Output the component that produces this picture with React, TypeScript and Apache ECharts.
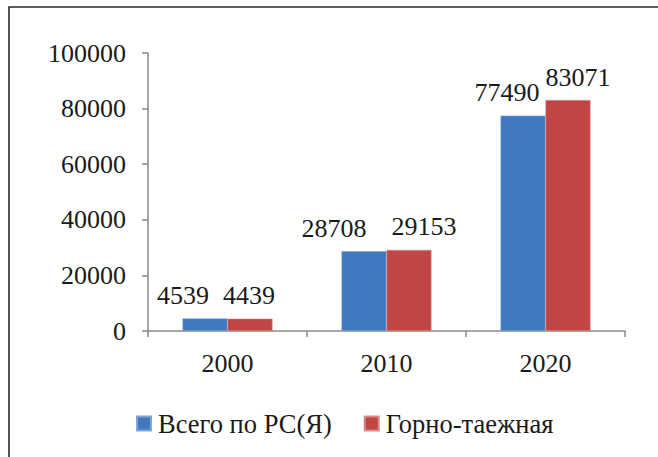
import React, { useEffect, useRef } from "react";
import * as echarts from "echarts";

const categories = ["2000", "2010", "2020"];
const seriesNames = ["Всего по РС(Я)", "Горно-таежная"];
const totalValues = [4539, 28708, 77490];
const mountainValues = [4439, 29153, 83071];
const yTicks = { min: 0, max: 100000, interval: 20000 };

// horizontal shifts of the value labels (layout only)
const totalLabelShift = [-22, -30, -16];
const mountainLabelShift = [-1, 15, 10];

const FONT = "Liberation Serif";

export default function App() {
  const ref = useRef<HTMLDivElement>(null);
  useEffect(() => {
    if (!ref.current) return;
    const chart = echarts.init(ref.current, null, { renderer: "svg" });
    const labelBase = {
      show: true,
      position: "top",
      distance: 10,
      color: "#1a1a1a",
      fontFamily: FONT,
      fontSize: 26,
    };
    chart.setOption({
      animation: false,
      backgroundColor: "#ffffff",
      textStyle: { fontFamily: FONT },
      graphic: [
        {
          type: "rect",
          shape: { x: 9, y: 7, width: 700, height: 500 },
          style: { fill: "none", stroke: "#2a2a2a", lineWidth: 1.6 },
          silent: true,
        },
      ],
      grid: { left: 148, right: 33, top: 53, bottom: 126, containLabel: false },
      legend: {
        left: 131,
        top: 405,
        itemWidth: 14,
        itemHeight: 14,
        itemGap: 32,
        icon: "rect",
        textStyle: { fontFamily: FONT, fontSize: 26.5, color: "#1a1a1a", padding: [0, 0, 0, 2] },
        data: seriesNames,
      },
      xAxis: {
        type: "category",
        data: categories,
        axisLine: { lineStyle: { color: "#8a8a8a", width: 1.5 } },
        axisTick: { show: true, length: 6, lineStyle: { color: "#8a8a8a", width: 1.5 } },
        axisLabel: { color: "#1a1a1a", fontFamily: FONT, fontSize: 26, margin: 19 },
      },
      yAxis: {
        type: "value",
        min: yTicks.min,
        max: yTicks.max,
        interval: yTicks.interval,
        splitLine: { show: false },
        axisLine: { show: true, lineStyle: { color: "#8a8a8a", width: 1.5 } },
        axisTick: { show: true, length: 6, lineStyle: { color: "#8a8a8a", width: 1.5 } },
        axisLabel: {
          color: "#1a1a1a",
          fontFamily: FONT,
          fontSize: 26,
          margin: 22,
          formatter: (v: number) => String(v),
        },
      },
      series: [
        {
          name: seriesNames[0],
          type: "bar",
          barWidth: 45,
          barGap: "0%",
          itemStyle: { color: "#4079BD", borderColor: "#7fa6d6", borderWidth: 0.6 },
          label: labelBase,
          data: totalValues.map((v, i) => ({ value: v, label: { offset: [totalLabelShift[i], 0] } })),
        },
        {
          name: seriesNames[1],
          type: "bar",
          barWidth: 45,
          barGap: "0%",
          itemStyle: { color: "#C04644", borderColor: "#d98a88", borderWidth: 0.6 },
          label: labelBase,
          data: mountainValues.map((v, i) => ({ value: v, label: { offset: [mountainLabelShift[i], 0] } })),
        },
      ],
    });
    return () => chart.dispose();
  }, []);
  return (
    <div
      ref={ref}
      style={{ position: "fixed", left: 0, top: 0, width: 658, height: 457 }}
    />
  );
}
